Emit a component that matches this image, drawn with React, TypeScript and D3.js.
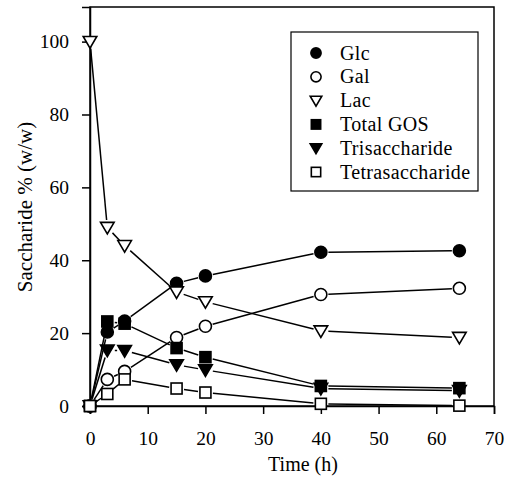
import React, { useEffect, useRef } from 'react';
import * as d3 from 'd3';

// sampling times (h)
const times = [0, 3, 6, 15, 20, 40, 64];

const glc = [0, 20.3, 23.3, 33.7, 35.7, 42.2, 42.6];
const gal = [0, 7.3, 9.5, 18.8, 21.9, 30.6, 32.3];
const lac = [100, 49, 44, 31.3, 28.6, 20.6, 18.8];
const totalGos = [0, 23.2, 22.6, 15.9, 13.4, 5.5, 4.9];
const tri = [0, 15.3, 15.2, 11.3, 9.9, 4.8, 4.2];
const tetra = [0, 3.3, 7.3, 4.8, 3.7, 0.6, 0.1];

const seriesNames = ['Glc', 'Gal', 'Lac', 'Total GOS', 'Trisaccharide', 'Tetrasaccharide'];
const seriesValues = [glc, gal, lac, totalGos, tri, tetra];
const seriesMarkers = ['circleFilled', 'circleOpen', 'triDownOpen', 'squareFilled', 'triDownFilled', 'squareOpen'];

const xTicks = [0, 10, 20, 30, 40, 50, 60, 70];
const yTicks = [0, 20, 40, 60, 80, 100];

const FONT = 'Liberation Serif';

const drawMarker = (g, type, x, y, scale = 1) => {
  const filled = type.endsWith('Filled');
  const fill = filled ? '#000' : '#fff';
  if (type.startsWith('circle')) {
    g.append('circle').attr('cx', x).attr('cy', y).attr('r', 6 * scale)
      .attr('fill', fill).attr('stroke', '#000').attr('stroke-width', 1.6);
  } else if (type.startsWith('square')) {
    const s = 11 * scale;
    g.append('rect').attr('x', x - s / 2).attr('y', y - s / 2).attr('width', s).attr('height', s)
      .attr('fill', fill).attr('stroke', '#000').attr('stroke-width', 1.6);
  } else {
    const w = 6.8 * scale;
    g.append('path')
      .attr('d', `M${x - w},${y - w * 0.75}L${x + w},${y - w * 0.75}L${x},${y + w * 0.95}Z`)
      .attr('fill', fill).attr('stroke', '#000').attr('stroke-width', 1.6);
  }
};

export default function App() {
  const ref = useRef(null);

  useEffect(() => {
    const width = 506;
    const height = 479;
    const margin = { top: 7, left: 90, bottom: 73, right: 12 };
    const iwidth = width - margin.left - margin.right;
    const iheight = height - margin.top - margin.bottom;

    const svg = d3.select(ref.current);
    svg.selectAll('*').remove();
    svg.attr('width', width).attr('height', height);

    const g = svg.append('g').attr('transform', `translate(${margin.left},${margin.top})`);

    const x = d3.scaleLinear().domain([0, 70]).range([0, iwidth]);
    const y = d3.scaleLinear().domain([0, 109.5]).range([iheight, 0]);

    // frame
    g.append('rect').attr('width', iwidth).attr('height', iheight)
      .attr('fill', 'none').attr('stroke', '#000').attr('stroke-width', 1.5);

    const xAxis = g.append('g').attr('transform', `translate(0,${iheight})`)
      .call(d3.axisBottom(x).tickValues(xTicks).tickSize(8).tickPadding(17).tickFormat(d3.format('d')));
    const yAxis = g.append('g')
      .call(d3.axisLeft(y).tickValues(yTicks).tickSize(8).tickPadding(13).tickFormat(d3.format('d')));
    [xAxis, yAxis].forEach((a) => {
      a.attr('font-family', FONT).attr('font-size', 19.5);
      a.select('.domain').attr('stroke-width', 1.5);
      a.selectAll('line').attr('stroke-width', 1.5);
      a.selectAll('text').attr('fill', '#000');
    });

    // lines with gaps around markers
    const gap = 7.5;
    seriesValues.forEach((vals) => {
      for (let i = 0; i < vals.length - 1; i++) {
        const x0 = x(times[i]), y0 = y(vals[i]);
        const x1 = x(times[i + 1]), y1 = y(vals[i + 1]);
        const len = Math.hypot(x1 - x0, y1 - y0);
        if (len <= gap * 2) continue;
        const ux = (x1 - x0) / len, uy = (y1 - y0) / len;
        g.append('line')
          .attr('x1', x0 + ux * gap).attr('y1', y0 + uy * gap)
          .attr('x2', x1 - ux * gap).attr('y2', y1 - uy * gap)
          .attr('stroke', '#000').attr('stroke-width', 1.5);
      }
    });

    seriesValues.forEach((vals, si) => {
      vals.forEach((v, i) => drawMarker(g, seriesMarkers[si], x(times[i]), y(v)));
    });

    // legend
    const lg = svg.append('g').attr('font-family', FONT);
    lg.append('rect').attr('x', 291).attr('y', 32).attr('width', 187).attr('height', 159)
      .attr('fill', '#fff').attr('stroke', '#000').attr('stroke-width', 1.2);
    seriesNames.forEach((name, i) => {
      const ly = 53 + i * 23.8;
      drawMarker(lg, seriesMarkers[i], 316, ly, 0.85);
      lg.append('text').attr('x', 340).attr('y', ly + 6.5).attr('font-size', 20)
        .attr('letter-spacing', 0.35).attr('fill', '#000')
        .text(name);
    });

    // axis titles
    svg.append('text').attr('x', 303).attr('y', 471).attr('text-anchor', 'middle')
      .attr('font-family', FONT).attr('font-size', 20).text('Time (h)');
    svg.append('text').attr('transform', 'translate(32,207) rotate(-90)').attr('text-anchor', 'middle')
      .attr('font-family', FONT).attr('font-size', 21).text('Saccharide % (w/w)');
  }, []);

  return (
    <div style={{ position: 'absolute', left: 0, top: 0 }}>
      <svg ref={ref} style={{ display: 'block' }}></svg>
    </div>
  );
}
